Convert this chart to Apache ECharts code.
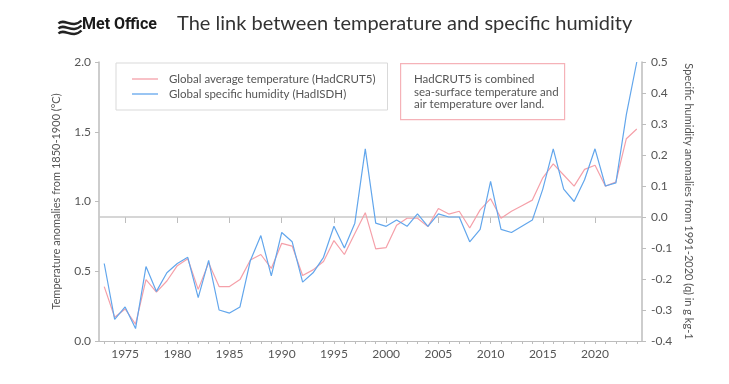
<!DOCTYPE html>
<html>
<head>
<meta charset="utf-8">
<script src="https://cdn.jsdelivr.net/npm/echarts@6/dist/echarts.min.js"></script>
<style>
html,body{margin:0;padding:0;background:#fff;}
#chart{width:729px;height:384px;}
</style>
</head>
<body>
<div id="chart"></div>
<script>
var years = [];
for (var y = 1973; y <= 2024; y++) years.push(String(y));

var temperature = [
  0.39, 0.17, 0.23, 0.12, 0.44, 0.35, 0.43, 0.54, 0.59, 0.37,
  0.56, 0.39, 0.39, 0.44, 0.58, 0.62, 0.52, 0.70, 0.68, 0.47,
  0.51, 0.57, 0.72, 0.62, 0.77, 0.92, 0.66, 0.67, 0.83, 0.88,
  0.88, 0.82, 0.95, 0.91, 0.93, 0.81, 0.94, 1.02, 0.88, 0.93,
  0.97, 1.01, 1.17, 1.27, 1.19, 1.11, 1.23, 1.26, 1.11, 1.14,
  1.45, 1.52
];

var humidity = [
  -0.15, -0.33, -0.29, -0.36, -0.16, -0.24, -0.18, -0.15, -0.13, -0.26,
  -0.14, -0.30, -0.31, -0.29, -0.14, -0.06, -0.19, -0.05, -0.08, -0.21,
  -0.18, -0.13, -0.03, -0.10, -0.02, 0.22, -0.02, -0.03, -0.01, -0.03,
  0.01, -0.03, 0.01, 0.00, 0.00, -0.08, -0.04, 0.115, -0.04, -0.05,
  -0.03, -0.01, 0.09, 0.22, 0.09, 0.05, 0.12, 0.22, 0.10, 0.11,
  0.33, 0.50
];

var seriesNames = ['Global average temperature (HadCRUT5)', 'Global specific humidity (HadISDH)'];
var titleText = 'The link between temperature and specific humidity';
var noteLines = ['HadCRUT5 is combined', 'sea-surface temperature and', 'air temperature over land.'];
var leftAxisName = 'Temperature anomalies from 1850-1900 (\u00B0C)';
var rightAxisName = 'Specific humidity anomalies from 1991-2020 (q) in g kg-1';

var RED = '#f5a0a9';
var BLUE = '#62a6ec';
var AXIS = '#bdbdbd';
var LABEL = '#555555';
var FONT = 'Lato, "Open Sans", sans-serif';

var chart = echarts.init(document.getElementById('chart'), null, {renderer: 'canvas'});

function wave(dy) {
  return {
    type: 'bezierCurve',
    shape: {x1: 0, y1: 5 + dy, cpx1: 6, cpy1: -1 + dy, cpx2: 14, cpy2: 11 + dy, x2: 23, y2: 2 + dy},
    style: {fill: 'none', stroke: '#222', lineWidth: 2.4}
  };
}

var option = {
  backgroundColor: '#ffffff',
  animation: false,
  textStyle: {fontFamily: FONT},
  grid: {left: 99, right: 87, top: 62, bottom: 43, containLabel: false},
  legend: {
    left: 116, top: 63,
    orient: 'vertical',
    data: seriesNames.map(function (n) { return {name: n, icon: 'rect'}; }),
    borderColor: '#d9d9d9', borderWidth: 1,
    padding: [9, 12, 9, 16],
    itemWidth: 26, itemHeight: 1.3, itemGap: 1,
    textStyle: {color: LABEL, fontSize: 11.5, fontFamily: FONT, lineHeight: 14, padding: [0, 0, 0, 6]}
  },
  xAxis: [{
    type: 'category',
    data: years,
    boundaryGap: true,
    axisLine: {show: true, lineStyle: {color: AXIS, width: 1}},
    axisTick: {show: true, alignWithLabel: true, interval: 0, length: 3, lineStyle: {color: AXIS}},
    axisLabel: {
      color: LABEL, fontSize: 12, fontFamily: FONT, margin: 7,
      interval: function (i, v) { return Number(v) % 5 === 0; }
    },
    splitLine: {show: false}
  }, {
    type: 'category',
    data: years,
    position: 'bottom',
    boundaryGap: true,
    axisLine: {show: false},
    axisTick: {show: true, alignWithLabel: true, length: 6, lineStyle: {color: AXIS},
      interval: function (i, v) { return Number(v) % 5 === 0; }},
    axisLabel: {show: false},
    splitLine: {show: false}
  }],
  yAxis: [{
    type: 'value',
    min: 0, max: 2, interval: 0.5,
    position: 'left',
    name: leftAxisName,
    nameLocation: 'middle',
    nameGap: 37,
    nameTextStyle: {color: LABEL, fontSize: 11, fontFamily: FONT},
    axisLine: {show: true, lineStyle: {color: AXIS, width: 1.5}},
    axisTick: {show: true, length: 4, lineStyle: {color: AXIS}},
    axisLabel: {color: LABEL, fontSize: 12, fontFamily: FONT, margin: 8,
      formatter: function (v) { return v.toFixed(1); }},
    splitLine: {show: false}
  }, {
    type: 'value',
    min: -0.4, max: 0.5, interval: 0.1,
    position: 'right',
    name: rightAxisName,
    nameLocation: 'middle',
    nameGap: 41,
    nameRotate: -90,
    nameTextStyle: {color: LABEL, fontSize: 11, fontFamily: FONT},
    axisLine: {show: true, lineStyle: {color: AXIS, width: 1.5}},
    axisTick: {show: true, length: 4, lineStyle: {color: AXIS}},
    axisLabel: {color: LABEL, fontSize: 12, fontFamily: FONT, margin: 9,
      formatter: function (v) { return v.toFixed(1); }},
    splitLine: {show: false}
  }],
  series: [{
    name: seriesNames[0],
    type: 'line',
    xAxisIndex: 0, yAxisIndex: 0,
    data: temperature,
    symbol: 'none',
    lineStyle: {color: RED, width: 1.2},
    itemStyle: {color: RED},
    z: 3
  }, {
    name: seriesNames[1],
    type: 'line',
    xAxisIndex: 0, yAxisIndex: 1,
    data: humidity,
    symbol: 'none',
    lineStyle: {color: BLUE, width: 1.2},
    itemStyle: {color: BLUE},
    z: 4,
    markLine: {
      silent: true,
      symbol: ['none', 'none'],
      label: {show: false},
      lineStyle: {color: '#c8c8c8', width: 1.5, type: 'solid'},
      data: [{yAxis: 0}],
      z: 1
    }
  }],
  graphic: [
    {
      type: 'group', left: 56, top: 18,
      children: [wave(0), wave(5), wave(10)]
    },
    {
      type: 'text', left: 82, top: 17,
      style: {text: 'Met Office', fontSize: 16, fontWeight: 'bold', fontFamily: 'Roboto, sans-serif', fill: '#1a1a1a'}
    },
    {
      type: 'text', left: 177, top: 14,
      style: {text: titleText, fontSize: 20, fontFamily: FONT, fill: '#333333'}
    },
    {
      type: 'rect', left: 400, top: 63,
      shape: {width: 164, height: 56},
      style: {fill: '#ffffff', stroke: '#f5b2b8', lineWidth: 1.2}
    },
    {
      type: 'text', left: 414, top: 73,
      style: {text: noteLines.join('\n'), fontSize: 11.5, lineHeight: 12.7, fontFamily: FONT, fill: LABEL}
    }
  ]
};

chart.setOption(option);
</script>
</body>
</html>
